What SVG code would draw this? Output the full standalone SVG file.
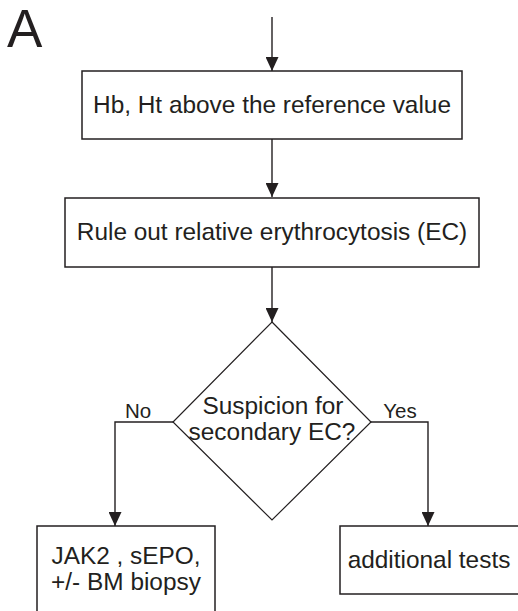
<svg xmlns="http://www.w3.org/2000/svg" width="518" height="611" viewBox="0 0 518 611">
<style>
.box{fill:#fff;stroke:#231f20;stroke-width:1.5}
.ln{fill:none;stroke:#231f20;stroke-width:1.4}
.t{font-family:"Liberation Sans",Arial,sans-serif;font-size:24.4px;fill:#231f20;text-anchor:middle}
.lb{font-family:"Liberation Sans",Arial,sans-serif;font-size:20.5px;fill:#231f20;text-anchor:middle}
</style>
<defs>
<marker id="ah" markerWidth="14" markerHeight="13" refX="14" refY="6.5" orient="auto" markerUnits="userSpaceOnUse">
<path d="M0,0 L14,6.5 L0,13 Z" fill="#231f20"/>
</marker>
</defs>
<text x="7" y="47" font-family="Liberation Sans,Arial,sans-serif" font-size="53" fill="#231f20">A</text>
<g id="connectors">
<line class="ln" x1="272" y1="17" x2="272" y2="71" marker-end="url(#ah)"/>
<line class="ln" x1="272" y1="139" x2="272" y2="197" marker-end="url(#ah)"/>
<line class="ln" x1="272" y1="267" x2="272" y2="322" marker-end="url(#ah)"/>
<polyline class="ln" points="173,422 115,422 115,526" marker-end="url(#ah)"/>
<polyline class="ln" points="371,422 428,422 428,526" marker-end="url(#ah)"/>
<text class="lb" x="138" y="418">No</text>
<text class="lb" x="400" y="418">Yes</text>
</g>
<g id="n1">
<rect class="box" x="82" y="71" width="380" height="68"/>
<text class="t" x="272" y="113">Hb, Ht above the reference value</text>
</g>
<g id="n2">
<rect class="box" x="65" y="198" width="414" height="69"/>
<text class="t" x="272" y="240">Rule out relative erythrocytosis (EC)</text>
</g>
<g id="n3">
<polygon class="box" points="272,322 371,422 272,520 173,422" style="stroke-width:1.2"/>
<text class="t" x="273" y="414">Suspicion for</text>
<text class="t" x="272" y="440">secondary EC?</text>
</g>
<g id="n4">
<rect class="box" x="37" y="526" width="178" height="100"/>
<text class="t" x="126" y="564">JAK2 , sEPO,</text>
<text class="t" x="126" y="590">+/- BM biopsy</text>
</g>
<g id="n5">
<rect class="box" x="340" y="526" width="190" height="68"/>
<text class="t" x="429" y="568">additional tests</text>
</g>
</svg>
